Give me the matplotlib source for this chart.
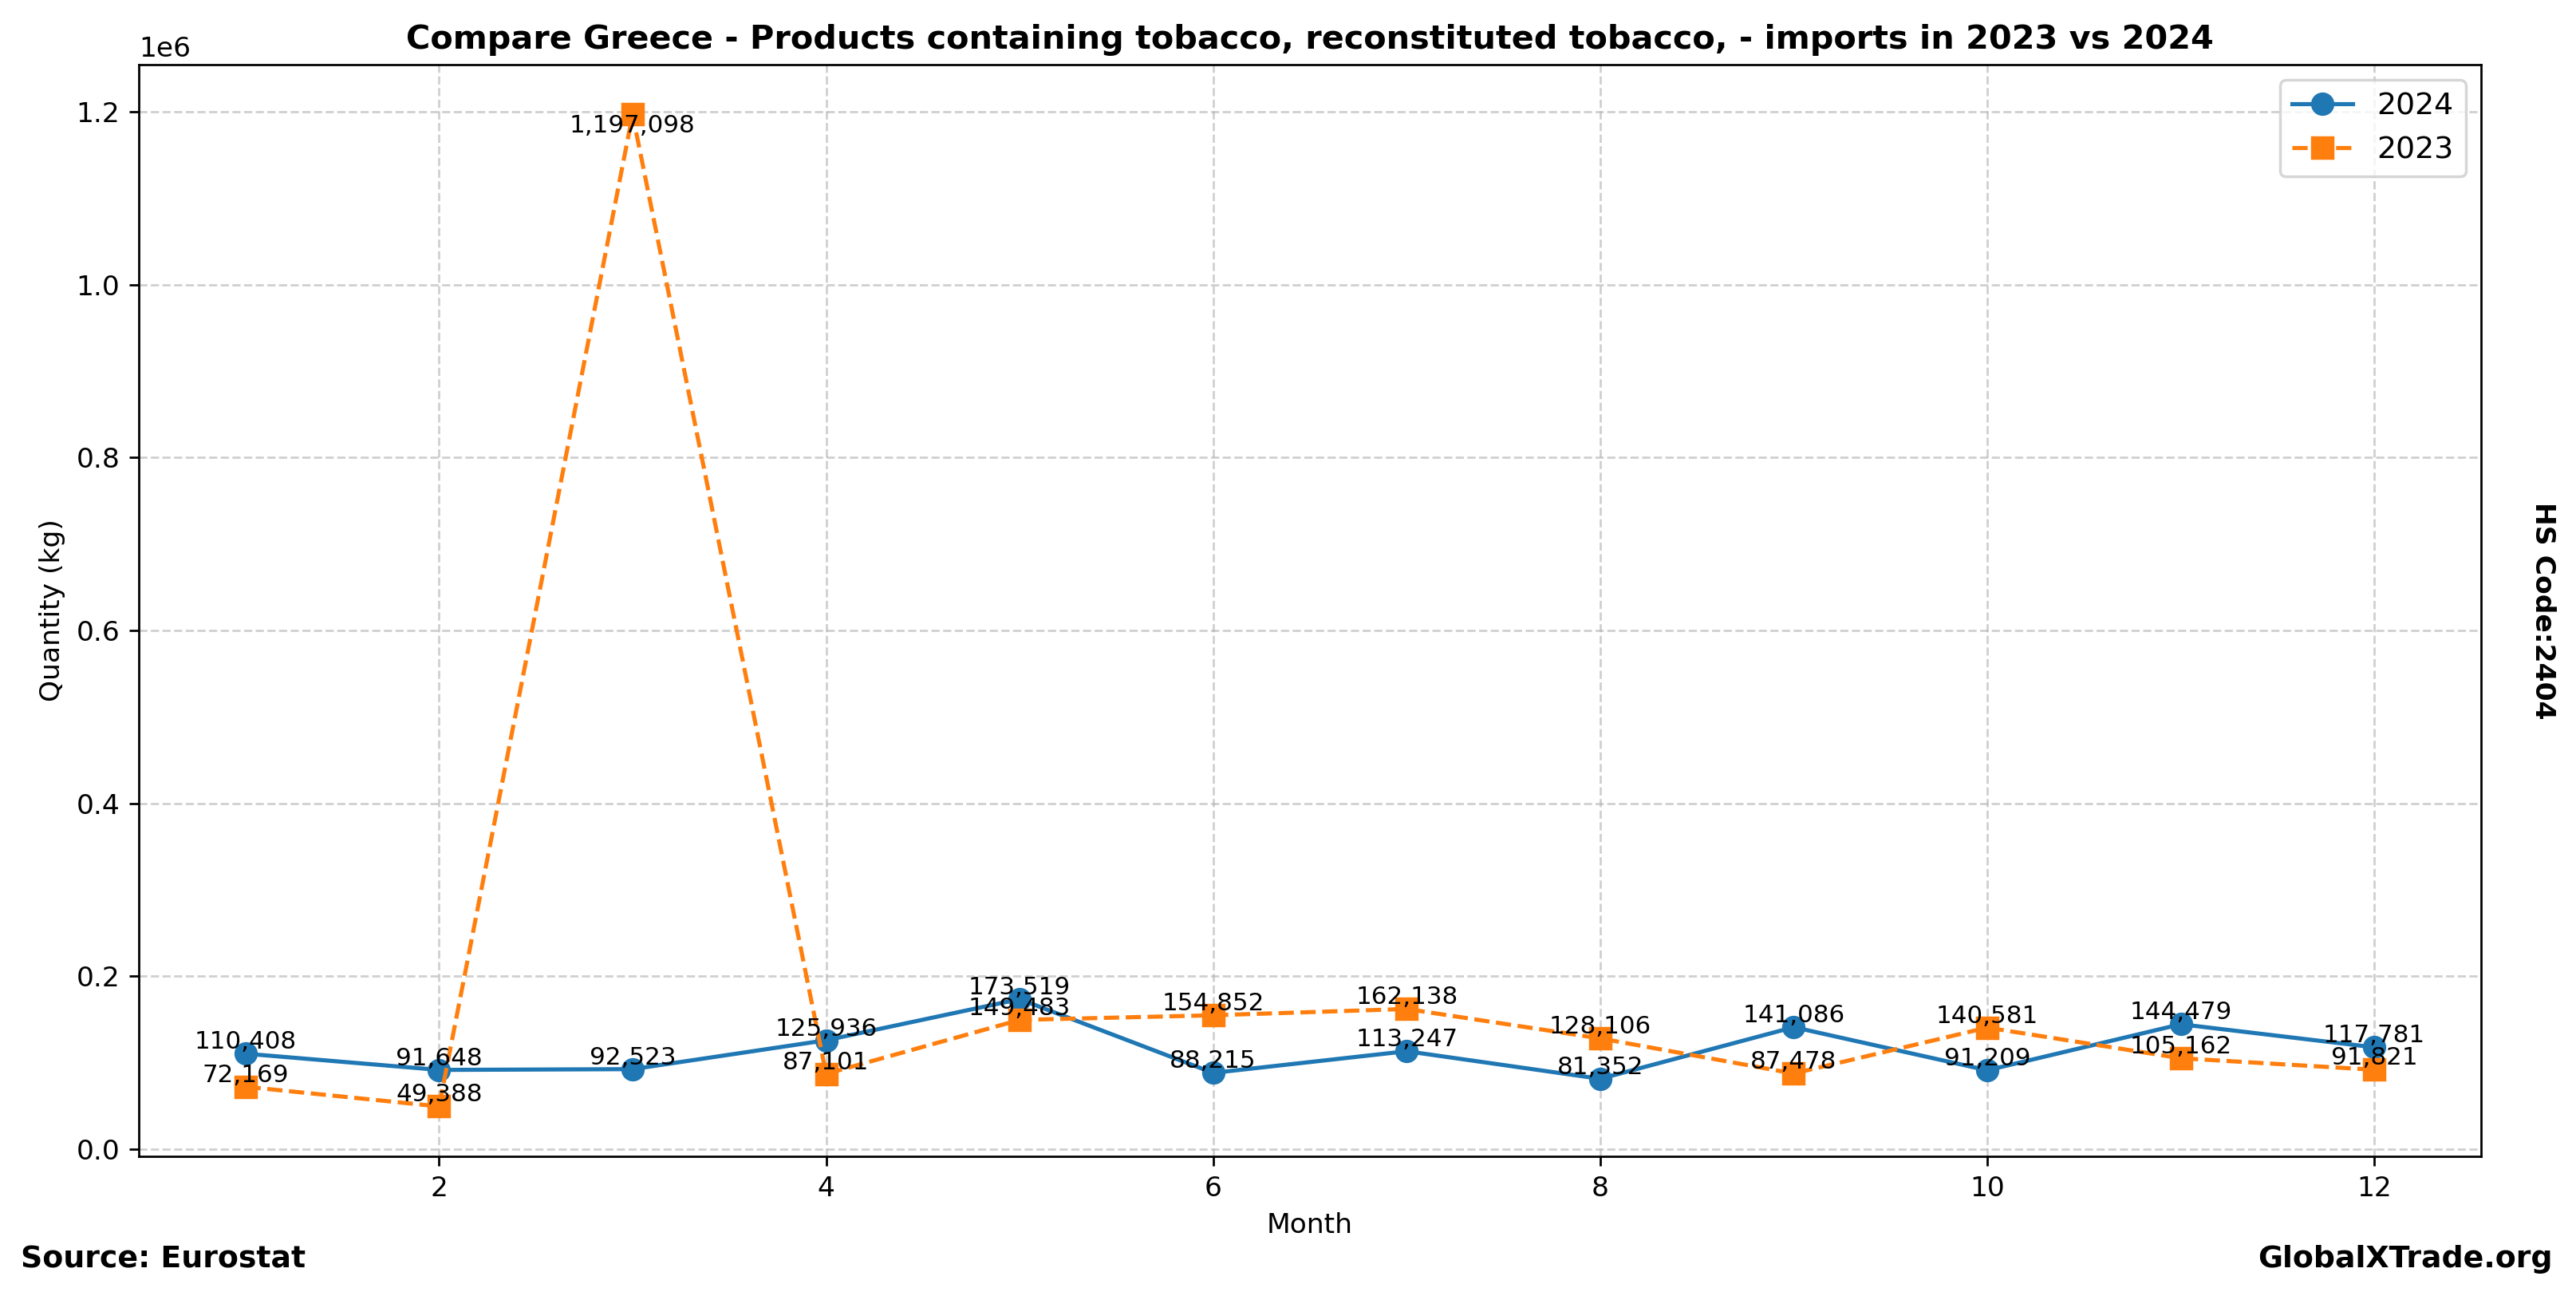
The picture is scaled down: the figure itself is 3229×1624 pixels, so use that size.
import matplotlib.pyplot as plt

months = list(range(1, 13))
qty_2024 = [110408, 91648, 92523, 125936, 173519, 88215, 113247, 81352, 141086, 91209, 144479, 117781]
qty_2023 = [72169, 49388, 1197098, 87101, 149483, 154852, 162138, 128106, 87478, 140581, 105162, 91821]

title = "Compare Greece - Products containing tobacco, reconstituted tobacco, - imports in 2023 vs 2024"

fig = plt.figure(figsize=(3229 / 248, 1624 / 248), dpi=248)
ax = fig.add_axes([0.054, 0.108, 0.909, 0.842])

ax.plot(months, qty_2024, marker='o', markersize=7.5, linestyle='-', label='2024')
ax.plot(months, qty_2023, marker='s', markersize=7.5, linestyle='--', label='2023')

# value labels
top = max(qty_2023 + qty_2024)
for series in (qty_2024, qty_2023):
    for m, v in zip(months, series):
        if v == top:
            ax.text(m, v, f"{v:,}", ha='center', va='top', fontsize=9)
        else:
            ax.text(m, v, f"{v:,}", ha='center', va='bottom', fontsize=9)

ax.set_title(title, fontsize=12, fontweight='bold')
ax.set_xlabel('Month')
ax.set_ylabel('Quantity (kg)')
ax.grid(True, linestyle='--', alpha=0.6)
ax.legend(loc='upper right', fontsize=11)

fig.text(0.008, 0.022, 'Source: Eurostat', fontsize=11, fontweight='bold')
fig.text(0.991, 0.022, 'GlobalXTrade.org', fontsize=11, fontweight='bold', ha='right')
fig.text(0.987, 0.529, 'HS Code:2404', fontsize=10, fontweight='bold', rotation=-90, va='center', ha='center')

fig.savefig('out.png', dpi=248)
